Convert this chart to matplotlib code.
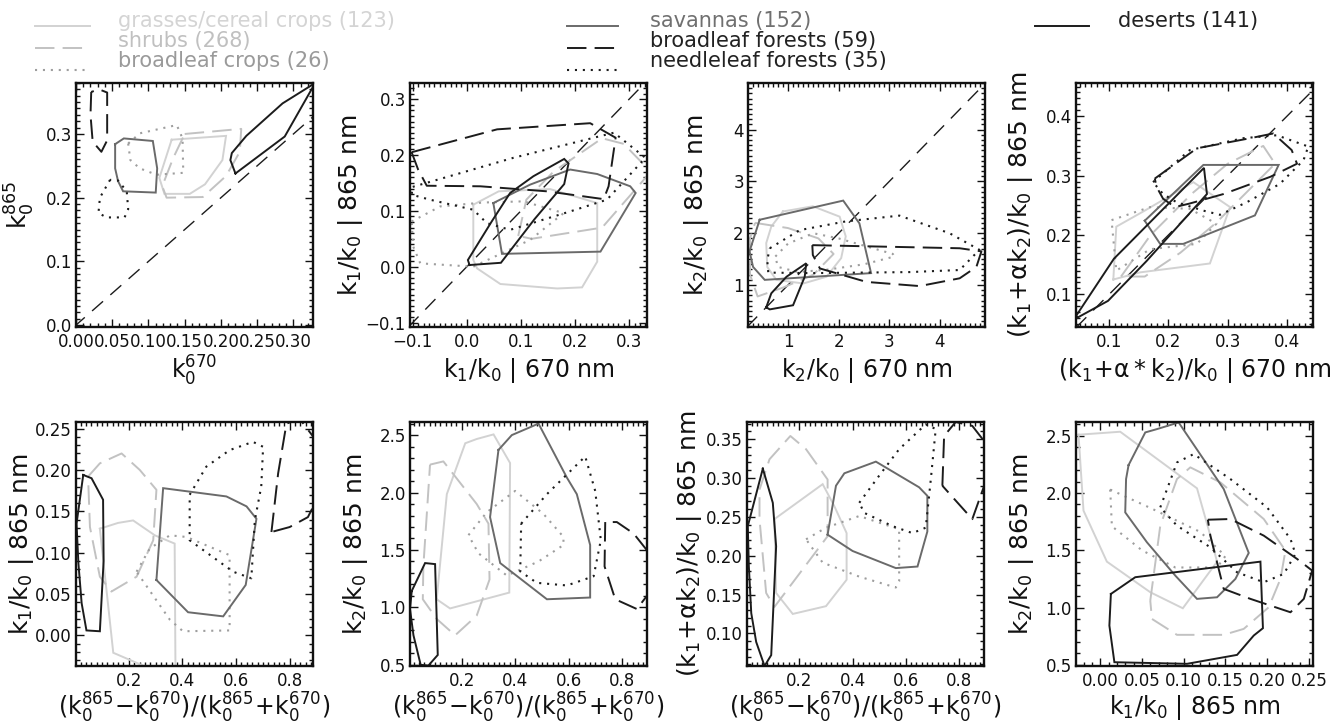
import matplotlib
matplotlib.use("Agg")
import matplotlib.pyplot as plt
from matplotlib.lines import Line2D
from matplotlib.ticker import FuncFormatter, AutoMinorLocator

plt.rcParams['font.family'] = ['DejaVu Sans']
plt.rcParams['mathtext.default'] = 'regular'

# ---------------- categories ----------------
CATS = ['grasses', 'shrubs', 'bcrops', 'savannas', 'bforests', 'nforests', 'deserts']
LABELS = ['grasses/cereal crops (123)', 'shrubs (268)', 'broadleaf crops (26)',
          'savannas (152)', 'broadleaf forests (59)', 'needleleaf forests (35)',
          'deserts (141)']

# ---------------- hull outlines per panel (data units) ----------------
hull_k0 = {
    'grasses': [(0.132, 0.291), (0.207, 0.297), (0.202, 0.259), (0.178, 0.221), (0.157, 0.206), (0.122, 0.206), (0.115, 0.231)],
    'shrubs': [(0.150, 0.300), (0.228, 0.308), (0.226, 0.272), (0.207, 0.234), (0.175, 0.201), (0.125, 0.200), (0.119, 0.218), (0.134, 0.262)],
    'bcrops': [(0.072, 0.285), (0.088, 0.301), (0.139, 0.314), (0.147, 0.293), (0.148, 0.239), (0.111, 0.236), (0.088, 0.246), (0.075, 0.259)],
    'savannas': [(0.054, 0.284), (0.066, 0.293), (0.106, 0.289), (0.112, 0.246), (0.110, 0.208), (0.065, 0.210), (0.058, 0.226), (0.054, 0.246)],
    'bforests': [(0.021, 0.366), (0.020, 0.330), (0.023, 0.288), (0.035, 0.272), (0.043, 0.290), (0.043, 0.330), (0.043, 0.365), (0.032, 0.370)],
    'nforests': [(0.047, 0.228), (0.033, 0.200), (0.031, 0.176), (0.042, 0.169), (0.067, 0.169), (0.072, 0.182), (0.070, 0.210), (0.058, 0.227)],
    'deserts': [(0.220, 0.238), (0.288, 0.296), (0.330, 0.380), (0.285, 0.348), (0.235, 0.297), (0.215, 0.270), (0.213, 0.259)],
}
hull_k1 = {
    'grasses': [(0.012, 0.111), (0.059, 0.135), (0.154, 0.139), (0.241, 0.114), (0.241, 0.009), (0.213, -0.037), (0.167, -0.039), (0.062, -0.031), (0.019, -0.003), (0.012, 0.012)],
    'shrubs': [(0.095, 0.055), (0.110, 0.120), (0.160, 0.170), (0.250, 0.230), (0.290, 0.220), (0.340, 0.170), (0.250, 0.070), (0.120, 0.050)],
    'bcrops': [(-0.102, 0.081), (-0.049, 0.108), (0.031, 0.115), (0.105, 0.117), (0.179, 0.096), (0.117, 0.048), (0.012, 0.000), (-0.086, 0.006), (-0.099, 0.036)],
    'savannas': [(0.049, 0.114), (0.117, 0.147), (0.191, 0.174), (0.241, 0.166), (0.302, 0.144), (0.312, 0.132), (0.247, 0.027), (0.065, 0.023)],
    'bforests': [(-0.102, 0.205), (0.056, 0.246), (0.228, 0.257), (0.275, 0.231), (0.262, 0.144), (0.253, 0.121), (0.148, 0.135), (0.025, 0.144), (-0.074, 0.145), (-0.090, 0.174)],
    'nforests': [(-0.100, 0.143), (0.086, 0.195), (0.272, 0.240), (0.330, 0.195), (0.259, 0.120), (0.191, 0.099), (0.080, 0.066), (0.037, 0.078), (0.012, 0.102), (-0.068, 0.120), (-0.102, 0.129)],
    'deserts': [(0.005, 0.003), (0.063, 0.007), (0.125, 0.085), (0.180, 0.148), (0.188, 0.185), (0.180, 0.193), (0.123, 0.162), (0.080, 0.132), (0.046, 0.081), (0.002, 0.012)],
}
hull_k2 = {
    'grasses': [(0.90, 2.42), (1.49, 2.52), (2.02, 2.32), (2.14, 1.94), (2.05, 1.52), (1.76, 1.16), (1.30, 1.03), (0.77, 1.10), (0.59, 1.35), (0.57, 1.81), (0.67, 2.13)],
    'shrubs': [(0.35, 2.20), (1.00, 2.10), (1.60, 1.90), (1.90, 1.60), (1.50, 1.20), (0.90, 0.95), (0.40, 0.78), (0.25, 1.20), (0.25, 1.90)],
    'bcrops': [(0.75, 1.55), (1.00, 1.80), (1.50, 2.00), (2.00, 1.90), (3.07, 1.60), (3.10, 1.55), (2.50, 1.40), (1.80, 1.30), (1.20, 1.25), (0.80, 1.35)],
    'savannas': [(0.44, 2.26), (2.09, 2.63), (2.41, 2.19), (2.64, 1.23), (0.54, 1.10), (0.31, 1.35), (0.24, 1.65)],
    'bforests': [(1.48, 1.77), (4.39, 1.71), (4.82, 1.65), (4.72, 1.35), (4.39, 1.13), (3.60, 0.98), (2.55, 1.06), (1.63, 1.32), (1.49, 1.58)],
    'nforests': [(0.64, 1.71), (1.23, 2.06), (2.15, 2.23), (3.20, 2.34), (4.19, 2.00), (4.78, 1.68), (4.39, 1.29), (3.40, 1.25), (1.43, 1.23), (0.61, 1.24), (0.59, 1.48)],
    'deserts': [(0.57, 0.57), (0.67, 0.84), (0.97, 1.16), (1.36, 1.42), (1.33, 1.16), (1.10, 0.61), (0.64, 0.53)],
}
hull_k12 = {
    'grasses': [(0.107, 0.125), (0.112, 0.214), (0.160, 0.241), (0.242, 0.289), (0.304, 0.247), (0.270, 0.152), (0.152, 0.137)],
    'shrubs': [(0.12, 0.13), (0.17, 0.20), (0.24, 0.27), (0.30, 0.32), (0.36, 0.35), (0.38, 0.32), (0.33, 0.27), (0.28, 0.22), (0.22, 0.17), (0.16, 0.13)],
    'bcrops': [(0.104, 0.225), (0.169, 0.247), (0.236, 0.244), (0.281, 0.219), (0.248, 0.185), (0.169, 0.176), (0.112, 0.140)],
    'savannas': [(0.160, 0.224), (0.259, 0.318), (0.386, 0.318), (0.346, 0.233), (0.225, 0.185), (0.186, 0.185)],
    'bforests': [(0.177, 0.295), (0.248, 0.346), (0.338, 0.363), (0.377, 0.371), (0.408, 0.343), (0.417, 0.320), (0.372, 0.298), (0.293, 0.269), (0.236, 0.253), (0.211, 0.247), (0.191, 0.261), (0.180, 0.281)],
    'nforests': [(0.174, 0.289), (0.236, 0.343), (0.326, 0.363), (0.383, 0.368), (0.436, 0.349), (0.428, 0.326), (0.388, 0.286), (0.332, 0.255), (0.287, 0.234), (0.259, 0.241), (0.214, 0.255), (0.191, 0.269)],
    'deserts': [(0.045, 0.060), (0.098, 0.089), (0.163, 0.156), (0.265, 0.269), (0.260, 0.313), (0.108, 0.160), (0.045, 0.065)],
}
hull_ndvi_k1 = {
    'grasses': [(0.092, 0.129), (0.160, 0.136), (0.216, 0.139), (0.297, 0.121), (0.371, 0.111), (0.374, -0.040), (0.278, -0.040), (0.142, -0.021)],
    'shrubs': [(0.048, 0.192), (0.092, 0.208), (0.173, 0.220), (0.241, 0.200), (0.303, 0.176), (0.291, 0.115), (0.229, 0.071), (0.135, 0.053), (0.092, 0.071), (0.055, 0.131)],
    'bcrops': [(0.229, 0.077), (0.278, 0.105), (0.353, 0.121), (0.415, 0.119), (0.576, 0.097), (0.576, 0.006), (0.402, 0.005), (0.353, 0.019)],
    'savannas': [(0.303, 0.067), (0.328, 0.178), (0.564, 0.168), (0.639, 0.156), (0.676, 0.141), (0.636, 0.061), (0.552, 0.023), (0.421, 0.028)],
    'bforests': [(0.732, 0.125), (0.757, 0.196), (0.788, 0.256), (0.837, 0.262), (0.900, 0.235), (0.910, 0.170), (0.868, 0.143), (0.800, 0.131)],
    'nforests': [(0.427, 0.170), (0.489, 0.204), (0.576, 0.224), (0.663, 0.234), (0.701, 0.228), (0.694, 0.180), (0.670, 0.139), (0.657, 0.069), (0.589, 0.077), (0.427, 0.115)],
    'deserts': [(0.030, 0.194), (0.061, 0.190), (0.104, 0.164), (0.106, 0.090), (0.092, 0.005), (0.042, 0.006), (0.024, 0.039), (0.012, 0.087), (0.005, 0.135)],
}
hull_ndvi_k2 = {
    'grasses': [(0.106, 1.071), (0.144, 1.986), (0.213, 2.429), (0.256, 2.466), (0.319, 2.506), (0.381, 2.257), (0.378, 1.129), (0.156, 0.991)],
    'shrubs': [(0.081, 2.243), (0.131, 2.271), (0.256, 1.900), (0.300, 1.729), (0.304, 1.243), (0.256, 0.929), (0.175, 0.757), (0.106, 0.900), (0.054, 1.071), (0.056, 1.357), (0.069, 1.814)],
    'bcrops': [(0.225, 1.629), (0.294, 1.829), (0.400, 2.014), (0.506, 1.814), (0.581, 1.614), (0.581, 1.543), (0.4875, 1.400), (0.369, 1.277), (0.2625, 1.471)],
    'savannas': [(0.3375, 2.371), (0.3875, 2.500), (0.4875, 2.600), (0.594, 2.129), (0.631, 1.986), (0.681, 1.543), (0.681, 1.086), (0.519, 1.071), (0.344, 1.386), (0.306, 1.786)],
    'bforests': [(0.7375, 1.743), (0.735, 1.357), (0.775, 1.071), (0.856, 0.986), (0.900, 1.120), (0.910, 1.450), (0.844, 1.643), (0.781, 1.743)],
    'nforests': [(0.4225, 1.729), (0.519, 1.986), (0.6625, 2.314), (0.700, 2.014), (0.721, 1.586), (0.694, 1.271), (0.594, 1.191), (0.481, 1.214), (0.419, 1.314)],
    'deserts': [(0.0125, 1.143), (0.0625, 1.386), (0.100, 1.377), (0.110, 0.586), (0.075, 0.494), (0.046, 0.500), (0.019, 0.757), (0.006, 0.986)],
}
hull_ndvi_k12 = {
    'grasses': [(0.106, 0.247), (0.2875, 0.292), (0.331, 0.264), (0.3775, 0.229), (0.3775, 0.169), (0.300, 0.135), (0.175, 0.125), (0.1125, 0.152)],
    'shrubs': [(0.050, 0.285), (0.0875, 0.324), (0.166, 0.354), (0.225, 0.337), (0.306, 0.298), (0.306, 0.225), (0.106, 0.134), (0.075, 0.152), (0.050, 0.247)],
    'bcrops': [(0.225, 0.221), (0.300, 0.236), (0.425, 0.251), (0.575, 0.234), (0.575, 0.167), (0.5625, 0.159), (0.425, 0.173), (0.2875, 0.191)],
    'savannas': [(0.306, 0.227), (0.3375, 0.290), (0.369, 0.306), (0.4875, 0.321), (0.650, 0.288), (0.681, 0.277), (0.681, 0.231), (0.644, 0.186), (0.5625, 0.184), (0.400, 0.206)],
    'bforests': [(0.7375, 0.290), (0.744, 0.354), (0.7875, 0.372), (0.850, 0.367), (0.900, 0.345), (0.900, 0.295), (0.850, 0.247)],
    'nforests': [(0.425, 0.268), (0.500, 0.303), (0.575, 0.337), (0.675, 0.369), (0.7125, 0.363), (0.694, 0.298), (0.675, 0.236), (0.625, 0.229), (0.550, 0.238), (0.444, 0.255)],
    'deserts': [(0.0625, 0.312), (0.100, 0.268), (0.1125, 0.212), (0.094, 0.072), (0.069, 0.058), (0.0375, 0.089), (0.019, 0.126), (0.010, 0.186), (0.006, 0.238)],
}
hull_k1_k2 = {
    'grasses': [(-0.026, 2.509), (0.024, 2.535), (0.116, 2.041), (0.132, 1.628), (0.140, 1.400), (0.099, 0.994), (0.060, 1.134), (0.008, 1.401), (-0.020, 1.846)],
    'shrubs': [(0.060, 1.061), (0.072, 1.715), (0.092, 2.122), (0.108, 2.224), (0.144, 2.093), (0.196, 1.773), (0.222, 1.497), (0.216, 1.250), (0.202, 1.003), (0.172, 0.814), (0.148, 0.762), (0.092, 0.762), (0.062, 0.901)],
    'bcrops': [(0.012, 2.03), (0.060, 1.87), (0.120, 1.66), (0.150, 1.45), (0.140, 1.35), (0.090, 1.35), (0.050, 1.50), (0.014, 1.71)],
    'savannas': [(0.034, 2.244), (0.054, 2.529), (0.068, 2.558), (0.094, 2.616), (0.148, 2.035), (0.178, 1.477), (0.162, 1.250), (0.140, 1.090), (0.116, 1.076), (0.090, 1.279), (0.056, 1.570), (0.030, 1.831), (0.031, 2.122)],
    'bforests': [(0.129, 1.767), (0.156, 1.773), (0.196, 1.628), (0.236, 1.424), (0.254, 1.323), (0.244, 1.076), (0.228, 0.959), (0.180, 1.076), (0.148, 1.163), (0.144, 1.279), (0.132, 1.628)],
    'nforests': [(0.072, 1.875), (0.092, 2.267), (0.112, 2.340), (0.156, 2.122), (0.200, 1.875), (0.228, 1.599), (0.234, 1.468), (0.220, 1.294), (0.196, 1.221), (0.164, 1.308), (0.132, 1.526), (0.092, 1.715)],
    'deserts': [(0.0128, 1.119), (0.042, 1.265), (0.192, 1.401), (0.195, 0.820), (0.184, 0.756), (0.164, 0.587), (0.104, 0.509), (0.017, 0.523), (0.011, 0.843)],
}

# ---------------- axes settings ----------------
NDVI = r'$(k_0^{865}\!-\!k_0^{670})/(k_0^{865}\!+\!k_0^{670})$'
PANELS = [
    dict(h=hull_k0, xl=r'$k_0^{670}$', yl=r'$k_0^{865}$', xlim=(0.0, 0.327), ylim=(-0.003, 0.38),
         xt=[0, .05, .10, .15, .20, .25, .30], yt=[0, .1, .2, .3], xf='%.2f', yf='%.1f', diag=True,
         pos=(76, 83), ylx=-0.236, xmin=5, ymin=10),
    dict(h=hull_k1, xl=r'$k_1/k_0$ | 670 nm', yl=r'$k_1/k_0$ | 865 nm', xlim=(-0.105, 0.333), ylim=(-0.108, 0.329),
         xt=[-.1, 0, .1, .2, .3], yt=[-.1, 0, .1, .2, .3], xf='%.1f', yf='%.1f', diag=True,
         pos=(410, 83), ylx=-0.253, xmin=10, ymin=10),
    dict(h=hull_k2, xl=r'$k_2/k_0$ | 670 nm', yl=r'$k_2/k_0$ | 865 nm', xlim=(0.21, 4.89), ylim=(0.19, 4.90),
         xt=[1, 2, 3, 4], yt=[1, 2, 3, 4], xf='%d', yf='%d', diag=True,
         pos=(748, 83), ylx=-0.219, xmin=10, ymin=10),
    dict(h=hull_k12, xl=r'$(k_1\!+\!\alpha*k_2)/k_0$ | 670 nm', yl=r'$(k_1\!+\!\alpha k_2)/k_0$ | 865 nm',
         xlim=(0.044, 0.444), ylim=(0.045, 0.456),
         xt=[.1, .2, .3, .4], yt=[.1, .2, .3, .4], xf='%.1f', yf='%.1f', diag=True,
         pos=(1076, 83), ylx=-0.236, xmin=10, ymin=10),
    dict(h=hull_ndvi_k1, xl=NDVI, yl=r'$k_1/k_0$ | 865 nm', xlim=(0.003, 0.887), ylim=(-0.037, 0.258),
         xt=[.2, .4, .6, .8], yt=[0, .05, .10, .15, .20, .25], xf='%.1f', yf='%.2f', diag=False,
         pos=(76, 422), ylx=-0.228, xmin=10, ymin=5),
    dict(h=hull_ndvi_k2, xl=NDVI, yl=r'$k_2/k_0$ | 865 nm', xlim=(0.006, 0.894), ylim=(0.49, 2.614),
         xt=[.2, .4, .6, .8], yt=[.5, 1.0, 1.5, 2.0, 2.5], xf='%.1f', yf='%.1f', diag=False,
         pos=(410, 422), ylx=-0.228, xmin=10, ymin=5),
    dict(h=hull_ndvi_k12, xl=NDVI, yl=r'$(k_1\!+\!\alpha k_2)/k_0$ | 865 nm', xlim=(0.003, 0.894), ylim=(0.058, 0.372),
         xt=[.2, .4, .6, .8], yt=[.10, .15, .20, .25, .30, .35], xf='%.1f', yf='%.2f', diag=False,
         pos=(747, 422), ylx=-0.241, xmin=10, ymin=5),
    dict(h=hull_k1_k2, xl=r'$k_1/k_0$ | 865 nm', yl=r'$k_2/k_0$ | 865 nm', xlim=(-0.029, 0.255), ylim=(0.49, 2.62),
         xt=[0, .05, .10, .15, .20, .25], yt=[.5, 1.0, 1.5, 2.0, 2.5], xf='%.2f', yf='%.1f', diag=False,
         pos=(1076, 422), ylx=-0.228, xmin=5, ymin=5),
]

# ---------------- styles ----------------
LINE_COL = {'grasses': '#d2d2d2', 'shrubs': '#c2c2c2', 'bcrops': '#9e9e9e', 'savannas': '#6a6a6a',
            'bforests': '#1c1c1c', 'nforests': '#1c1c1c', 'deserts': '#1c1c1c'}
TEXT_COL = {'grasses': '#d4d4d4', 'shrubs': '#c0c0c0', 'bcrops': '#9a9a9a', 'savannas': '#707070',
            'bforests': '#222222', 'nforests': '#222222', 'deserts': '#222222'}
DASH = (0, (10, 4.2))
DOT = (0, (1, 2.8))
LS = {'grasses': '-', 'shrubs': DASH, 'bcrops': DOT, 'savannas': '-',
      'bforests': DASH, 'nforests': DOT, 'deserts': '-'}
LW = {'grasses': 1.4, 'shrubs': 1.4, 'bcrops': 1.5, 'savannas': 1.4,
      'bforests': 1.4, 'nforests': 1.5, 'deserts': 1.4}

W, H = 1343, 724
fig = plt.figure(figsize=(W / 100, H / 100), dpi=100)
AX_W, AX_H = 237, 244


def fmt(f):
    return FuncFormatter(lambda v, p: (f % v).replace('-', '\u2212'))


for P in PANELS:
    px, py = P['pos']
    ax = fig.add_axes([px / W, 1 - (py + AX_H) / H, AX_W / W, AX_H / H])
    ax.set_xlim(*P['xlim'])
    ax.set_ylim(*P['ylim'])
    if P['diag']:
        lo = min(P['xlim'][0], P['ylim'][0])
        hi = max(P['xlim'][1], P['ylim'][1])
        ax.plot([lo, hi], [lo, hi], color='#1c1c1c', lw=1.0, ls=(0, (10.5, 7)))
    for c in CATS:
        pts = P['h'][c]
        xs = [p[0] for p in pts] + [pts[0][0]]
        ys = [p[1] for p in pts] + [pts[0][1]]
        ax.plot(xs, ys, color=LINE_COL[c], ls=LS[c], lw=LW[c], solid_joinstyle='miter')
    ax.set_xticks(P['xt'])
    ax.set_yticks(P['yt'])
    ax.xaxis.set_major_formatter(fmt(P['xf']))
    ax.yaxis.set_major_formatter(fmt(P['yf']))
    ax.xaxis.set_minor_locator(AutoMinorLocator(P['xmin']))
    ax.yaxis.set_minor_locator(AutoMinorLocator(P['ymin']))
    ax.tick_params(which='both', direction='in', top=True, right=True, width=1.0, colors='#111111')
    ax.tick_params(which='major', length=6)
    ax.tick_params(which='minor', length=3)
    ax.tick_params(axis='x', which='major', pad=4, labelsize=12)
    ax.tick_params(axis='y', which='major', pad=3, labelsize=12)
    for s in ax.spines.values():
        s.set_linewidth(1.7)
        s.set_color('#111111')
    ax.set_xlabel(P['xl'], fontsize=17, va='center', color='#111111')
    ax.set_ylabel(P['yl'], fontsize=18, va='center', color='#111111')
    ax.xaxis.set_label_coords(0.5, -0.178 if py < 200 else -0.172)
    ax.yaxis.set_label_coords(P['ylx'], 0.5)

# ---------------- legend (three columns) ----------------
LEG_COLS = [(35, 90, 118), (567, 618, 650), (1035, 1089, 1118)]
LEG_ROWS = [(26, 21), (48, 41), (70, 61)]
for i, c in enumerate(CATS):
    col, row = divmod(i, 3)
    x0, x1, tx = LEG_COLS[col]
    ly, ty = LEG_ROWS[row]
    fig.add_artist(Line2D([x0 / W, x1 / W], [1 - ly / H, 1 - ly / H], transform=fig.transFigure,
                          color=LINE_COL[c], ls=LS[c], lw=LW[c]))
    fig.text(tx / W, 1 - ty / H, LABELS[i], color=TEXT_COL[c], fontsize=15, va='center', ha='left')

fig.savefig('out.png', dpi=100)
